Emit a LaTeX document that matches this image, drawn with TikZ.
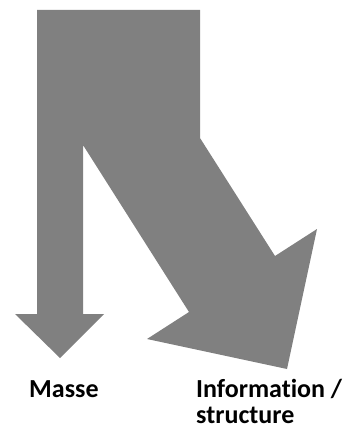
\documentclass[tikz,border=0pt]{standalone}
\usepackage{fontspec}
\setmainfont{Carlito}[Ligatures=NoCommon]
\tikzset{x=1pt, y=-1pt, % one unit is one pixel of the page, y runs down
flow/.style={fill=gray, draw=none}, % the grey arrows
lbl/.style={font=\bfseries\fontsize{26}{26}\selectfont, inner sep=0pt, anchor=base west, align=left}, % the labels below
}
\begin{document}
\begin{tikzpicture}
\useasboundingbox (0,0) rectangle (345,430);
% both arrows as one shape
\fill[flow] (37,10) -- (200,10) -- (200,138) -- (275,256) -- (317,229) -- (287,369)
  -- (147,339) -- (189,312) -- (83,145) -- (83,314) -- (104,314) -- (60,358)
  -- (15,314) -- (37,314) -- cycle;
\node[lbl] (masse) at (29,397) {Masse};
\node[lbl] (info) at (196,423) {Information /\\structure}; % base is the last line
\end{tikzpicture}
\end{document}
